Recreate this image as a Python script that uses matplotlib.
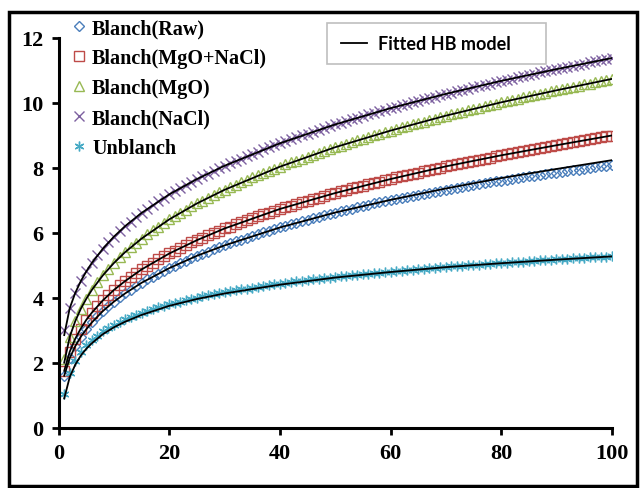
import matplotlib
matplotlib.use("Agg")
import matplotlib.pyplot as plt
from matplotlib.lines import Line2D
from matplotlib.patches import Rectangle

# shear rate (1/s), one reading per step
shear = list(range(1, 101))

raw = [1.60, 2.14, 2.51, 2.80, 3.03, 3.24, 3.43, 3.59, 3.74, 3.88,
       4.01, 4.13, 4.25, 4.36, 4.46, 4.56, 4.65, 4.74, 4.83, 4.91,
       4.99, 5.07, 5.14, 5.22, 5.29, 5.35, 5.42, 5.49, 5.55, 5.61,
       5.67, 5.73, 5.79, 5.84, 5.90, 5.95, 6.01, 6.06, 6.11, 6.16,
       6.21, 6.26, 6.30, 6.35, 6.40, 6.44, 6.49, 6.53, 6.57, 6.62,
       6.66, 6.70, 6.74, 6.78, 6.82, 6.86, 6.90, 6.94, 6.97, 7.01,
       7.04, 7.07, 7.11, 7.14, 7.17, 7.20, 7.23, 7.26, 7.29, 7.32,
       7.35, 7.38, 7.41, 7.44, 7.46, 7.49, 7.52, 7.55, 7.58, 7.60,
       7.63, 7.65, 7.68, 7.70, 7.73, 7.75, 7.78, 7.80, 7.83, 7.85,
       7.88, 7.90, 7.92, 7.94, 7.97, 7.99, 8.01, 8.04, 8.06, 8.08]

mgo_nacl = [1.75, 2.34, 2.74, 3.05, 3.32, 3.54, 3.74, 3.92, 4.09, 4.24,
            4.38, 4.51, 4.64, 4.76, 4.87, 4.98, 5.08, 5.18, 5.27, 5.36,
            5.45, 5.53, 5.62, 5.70, 5.77, 5.85, 5.92, 5.99, 6.06, 6.13,
            6.19, 6.26, 6.32, 6.38, 6.44, 6.50, 6.56, 6.61, 6.67, 6.73,
            6.78, 6.83, 6.88, 6.93, 6.98, 7.03, 7.08, 7.13, 7.18, 7.22,
            7.27, 7.31, 7.36, 7.40, 7.45, 7.49, 7.53, 7.57, 7.61, 7.65,
            7.70, 7.73, 7.77, 7.81, 7.85, 7.89, 7.93, 7.96, 8.00, 8.04,
            8.07, 8.11, 8.14, 8.18, 8.21, 8.25, 8.28, 8.31, 8.35, 8.38,
            8.41, 8.45, 8.48, 8.51, 8.54, 8.57, 8.60, 8.63, 8.66, 8.69,
            8.73, 8.75, 8.78, 8.81, 8.84, 8.87, 8.90, 8.93, 8.96, 8.99]

mgo = [2.10, 2.80, 3.28, 3.66, 3.97, 4.24, 4.48, 4.69, 4.89, 5.07,
       5.24, 5.40, 5.55, 5.69, 5.82, 5.95, 6.07, 6.19, 6.30, 6.41,
       6.51, 6.61, 6.71, 6.81, 6.90, 6.99, 7.07, 7.16, 7.24, 7.32,
       7.40, 7.48, 7.55, 7.62, 7.70, 7.77, 7.84, 7.90, 7.97, 8.03,
       8.10, 8.16, 8.22, 8.28, 8.34, 8.40, 8.46, 8.52, 8.57, 8.63,
       8.68, 8.74, 8.79, 8.84, 8.89, 8.94, 9.00, 9.04, 9.09, 9.14,
       9.19, 9.24, 9.28, 9.33, 9.38, 9.42, 9.47, 9.51, 9.55, 9.60,
       9.64, 9.68, 9.72, 9.77, 9.81, 9.85, 9.89, 9.93, 9.97, 10.01,
       10.05, 10.09, 10.12, 10.16, 10.20, 10.24, 10.27, 10.31, 10.35, 10.38,
       10.42, 10.45, 10.49, 10.52, 10.56, 10.59, 10.63, 10.66, 10.70, 10.73]

nacl = [3.00, 3.68, 4.15, 4.51, 4.81, 5.07, 5.30, 5.51, 5.70, 5.88,
        6.04, 6.20, 6.34, 6.48, 6.61, 6.73, 6.85, 6.96, 7.07, 7.18,
        7.28, 7.38, 7.47, 7.56, 7.65, 7.74, 7.82, 7.90, 7.98, 8.06,
        8.14, 8.21, 8.28, 8.36, 8.43, 8.49, 8.56, 8.63, 8.69, 8.75,
        8.82, 8.88, 8.94, 9.00, 9.05, 9.11, 9.17, 9.22, 9.28, 9.33,
        9.38, 9.43, 9.49, 9.54, 9.59, 9.64, 9.69, 9.73, 9.78, 9.83,
        9.87, 9.92, 9.97, 10.01, 10.05, 10.10, 10.14, 10.18, 10.23, 10.27,
        10.31, 10.35, 10.39, 10.43, 10.47, 10.51, 10.55, 10.59, 10.63, 10.67,
        10.70, 10.74, 10.78, 10.82, 10.85, 10.89, 10.93, 10.96, 11.00, 11.03,
        11.07, 11.10, 11.13, 11.17, 11.20, 11.24, 11.27, 11.30, 11.33, 11.37]

unblanch = [1.05, 1.69, 2.06, 2.32, 2.53, 2.69, 2.83, 2.96, 3.06, 3.16,
            3.25, 3.33, 3.40, 3.47, 3.53, 3.59, 3.65, 3.70, 3.75, 3.80,
            3.84, 3.88, 3.93, 3.96, 4.00, 4.04, 4.07, 4.11, 4.14, 4.17,
            4.20, 4.23, 4.26, 4.28, 4.31, 4.34, 4.36, 4.39, 4.41, 4.43,
            4.46, 4.48, 4.50, 4.52, 4.54, 4.56, 4.58, 4.60, 4.62, 4.64,
            4.66, 4.67, 4.69, 4.71, 4.72, 4.74, 4.76, 4.77, 4.79, 4.80,
            4.82, 4.83, 4.85, 4.86, 4.88, 4.89, 4.91, 4.92, 4.93, 4.95,
            4.96, 4.97, 4.98, 5.00, 5.01, 5.02, 5.03, 5.05, 5.06, 5.07,
            5.08, 5.09, 5.10, 5.11, 5.12, 5.13, 5.15, 5.16, 5.17, 5.18,
            5.19, 5.20, 5.21, 5.22, 5.23, 5.24, 5.24, 5.25, 5.26, 5.27]

# fitted Herschel-Bulkley curves, read at fewer shear rates
fit_x = [1, 2, 3, 4, 5, 6, 8, 10, 12, 15, 20, 25, 30, 40, 50, 60, 70, 80, 90, 100]
fit_raw = [1.60, 2.14, 2.51, 2.80, 3.03, 3.24, 3.59, 3.88, 4.13, 4.46,
           4.91, 5.29, 5.61, 6.16, 6.62, 7.01, 7.36, 7.68, 7.96, 8.23]
fit_mgo_nacl = [1.75, 2.34, 2.74, 3.05, 3.32, 3.54, 3.92, 4.24, 4.51, 4.87,
                5.36, 5.77, 6.13, 6.73, 7.22, 7.65, 8.04, 8.38, 8.69, 8.99]
fit_mgo = [2.00, 2.80, 3.28, 3.66, 3.97, 4.24, 4.69, 5.07, 5.40, 5.82,
           6.41, 6.90, 7.32, 8.03, 8.63, 9.14, 9.60, 10.01, 10.38, 10.73]
fit_nacl = [2.85, 3.68, 4.15, 4.51, 4.81, 5.07, 5.51, 5.88, 6.20, 6.61,
            7.18, 7.65, 8.06, 8.75, 9.33, 9.83, 10.27, 10.67, 11.03, 11.37]
fit_unblanch = [0.90, 1.56, 1.94, 2.22, 2.43, 2.60, 2.88, 3.09, 3.26, 3.47,
                3.75, 3.96, 4.13, 4.40, 4.62, 4.79, 4.94, 5.06, 5.17, 5.27]

labels = ['Blanch(Raw)', 'Blanch(MgO+NaCl)', 'Blanch(MgO)', 'Blanch(NaCl)', 'Unblanch']

serif = ['Liberation Serif', 'DejaVu Serif']

fig = plt.figure(figsize=(6.4, 4.89), dpi=100)
ax = fig.add_axes([0.0917, 0.1233, 0.8641, 0.7976])

series = [
    (raw, 'D', '#4A7EBB', 5.2),
    (mgo_nacl, 's', '#BE4B48', 6.6),
    (mgo, '^', '#98B954', 7.2),
    (nacl, 'x', '#7D60A0', 6.6),
    (unblanch, (6, 2, 0), '#46AAC5', 7.0),
]
handles = []
for (vals, mk, col, ms), lab in zip(series, labels):
    h, = ax.plot(shear, vals, linestyle='none', marker=mk, markersize=ms,
                 markerfacecolor='none', markeredgecolor=col,
                 markeredgewidth=1.0, label=lab)
    handles.append(h)

for fv in [fit_raw, fit_mgo_nacl, fit_mgo, fit_nacl, fit_unblanch]:
    ax.plot(fit_x, fv, color='black', linewidth=1.3, zorder=5)

ax.set_xlim(0, 100)
ax.set_ylim(0, 12)
ax.set_xticks([0, 20, 40, 60, 80, 100])
ax.set_yticks([0, 2, 4, 6, 8, 10, 12])
for s in ['top', 'right']:
    ax.spines[s].set_visible(False)
for s in ['left', 'bottom']:
    ax.spines[s].set_linewidth(2.2)
ax.tick_params(direction='out', length=5, width=2, pad=6)
for t in ax.get_xticklabels() + ax.get_yticklabels():
    t.set_fontfamily(serif)
    t.set_fontweight('bold')
    t.set_fontsize(16)

leg = fig.legend(handles=handles, loc='upper left', bbox_to_anchor=(0.092, 0.99),
                 frameon=False, handlelength=0.6, handletextpad=0.35,
                 labelspacing=0.5, borderpad=0.2,
                 prop={'family': serif, 'weight': 'bold', 'size': 14.5})

# "Fitted HB model" box
fig.patches.append(Rectangle((327 / 640, 1 - 65 / 489), 219 / 640, 41 / 489,
                             transform=fig.transFigure, facecolor='white',
                             edgecolor='#BFBFBF', linewidth=1.2, zorder=3))
fit_handle = Line2D([], [], color='black', linewidth=1.3)
fig.legend(handles=[fit_handle], labels=['Fitted HB model'], loc='center left',
           bbox_to_anchor=(328 / 640, 1 - 44.5 / 489), frameon=False,
           handlelength=1.45, handletextpad=0.6, borderpad=0.2,
           prop={'family': ['Lato', 'DejaVu Sans'], 'weight': 'bold', 'size': 13})

# outer frame
fig.patches.append(Rectangle((8.5 / 640, 2.5 / 489), 628 / 640, 474 / 489,
                             transform=fig.transFigure, facecolor='none',
                             edgecolor='black', linewidth=2.5))

fig.savefig('out.png', dpi=100)
